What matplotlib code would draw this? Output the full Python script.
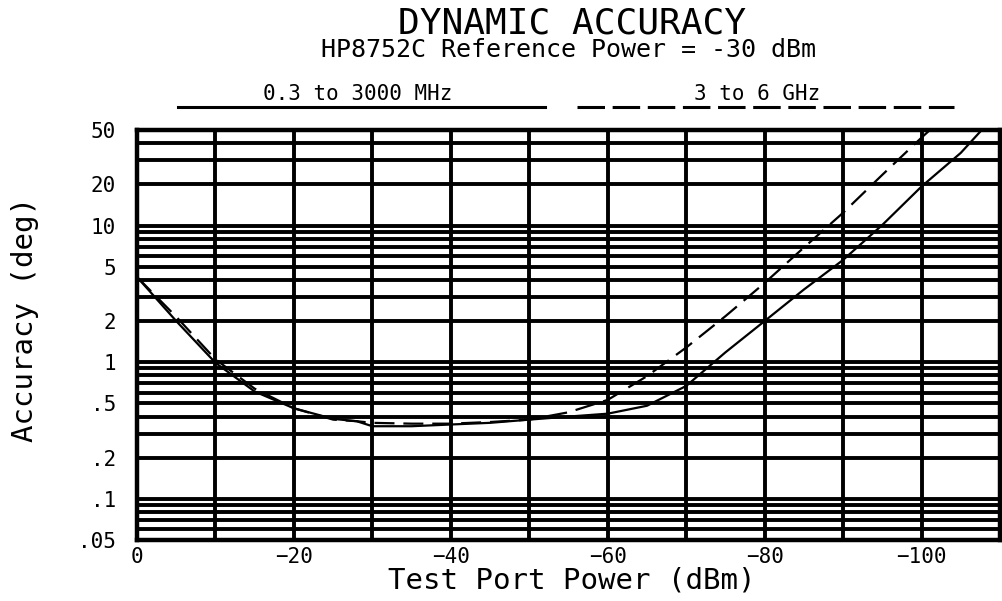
import matplotlib
matplotlib.use("Agg")
import matplotlib.pyplot as plt
from matplotlib.lines import Line2D
from matplotlib.ticker import FixedLocator, NullFormatter

# ---- data ----
power_dbm = [0, -5, -10, -15, -20, -25, -28, -30, -35, -40, -45, -50,
             -55, -60, -65, -70, -75, -80, -85, -90, -95, -100, -105, -110]
acc_low_band = [4.2, 2.0, 0.99, 0.61, 0.46, 0.385, 0.37, 0.34, 0.34, 0.35, 0.36, 0.38,
                0.40, 0.42, 0.48, 0.67, 1.18, 2.0, 3.4, 5.6, 10.1, 19.3, 34.0, 70.0]
acc_high_band = [4.2, 2.15, 1.05, 0.64, 0.46, 0.38, 0.37, 0.36, 0.355, 0.355, 0.365, 0.38,
                 0.43, 0.53, 0.79, 1.28, 2.17, 3.8, 6.9, 12.4, 23.5, 44.0, 80.0, 140.0]

ytick_vals = [0.05, 0.1, 0.2, 0.5, 1, 2, 5, 10, 20, 50]
ytick_labels = [".05", ".1", ".2", ".5", "1", "2", "5", "10", "20", "50"]
xtick_vals = [0, -20, -40, -60, -80, -100]
xtick_labels = ["0", "\u221220", "\u221240", "\u221260", "\u221280", "\u2212100"]
ygrid_vals = [0.05, 0.06, 0.07, 0.08, 0.09, 0.1, 0.2, 0.3, 0.4, 0.5, 0.6, 0.7, 0.8, 0.9,
              1, 2, 3, 4, 5, 6, 7, 8, 9, 10, 20, 30, 40, 50]
xgrid_vals = [0, -10, -20, -30, -40, -50, -60, -70, -80, -90, -100, -110]

title = "DYNAMIC ACCURACY"
subtitle = "HP8752C Reference Power = -30 dBm"
band1_label = "0.3 to 3000 MHz"
band2_label = "3 to 6 GHz"

FONT = "DejaVu Sans Mono"
plt.rcParams["font.family"] = [FONT, "DejaVu Sans"]

W, H = 1003, 601
fig = plt.figure(figsize=(W / 100, H / 100), dpi=100)
ax = fig.add_axes([137 / W, 1 - 540 / H, (1000 - 137) / W, (540 - 130) / H])

ax.set_yscale("log")
ax.set_xlim(0, -110)
ax.set_ylim(0.05, 50)

# grid
ax.yaxis.set_major_locator(FixedLocator(ytick_vals))
ax.yaxis.set_minor_locator(FixedLocator(ygrid_vals))
ax.yaxis.set_minor_formatter(NullFormatter())
ax.set_yticklabels(ytick_labels)
ax.xaxis.set_major_locator(FixedLocator(xtick_vals))
ax.xaxis.set_minor_locator(FixedLocator(xgrid_vals))
ax.set_xticklabels(xtick_labels)
ax.grid(which="both", color="black", linewidth=2.8)
ax.tick_params(which="both", length=0)
ax.tick_params(axis="y", pad=15, labelsize=15)
ax.tick_params(axis="x", pad=5, labelsize=15)
for s in ax.spines.values():
    s.set_linewidth(3.2)
ax.set_axisbelow(True)

dash = (0, (9, 4))
ax.plot(power_dbm, acc_low_band, color="black", lw=1.6, solid_capstyle="butt")
ax.plot(power_dbm, acc_high_band, color="black", lw=1.6, linestyle=dash)

# axis labels
fig.text(25 / W, 1 - 320 / H, "Accuracy (deg)", rotation=90, ha="center", va="center",
         fontsize=21)
fig.text(572 / W, 1 - 580 / H, "Test Port Power (dBm)", ha="center", va="center",
         fontsize=21)

# titles
fig.text(572 / W, 1 - 23 / H, title, ha="center", va="center", fontsize=26)
fig.text(569 / W, 1 - 50 / H, subtitle, ha="center", va="center", fontsize=18)

# band legend
fig.text(358 / W, 1 - 94 / H, band1_label, ha="center", va="center", fontsize=15)
fig.text(757 / W, 1 - 94 / H, band2_label, ha="center", va="center", fontsize=15)
fig.add_artist(Line2D([178 / W, 545 / W], [1 - 107 / H, 1 - 107 / H],
                      transform=fig.transFigure, color="black", lw=2.2))
fig.add_artist(Line2D([577 / W, 954 / W], [1 - 107 / H, 1 - 107 / H],
                      transform=fig.transFigure, color="black", lw=2.2,
                      linestyle=(0, (9, 2.5))))

fig.savefig("out.png", dpi=100)
